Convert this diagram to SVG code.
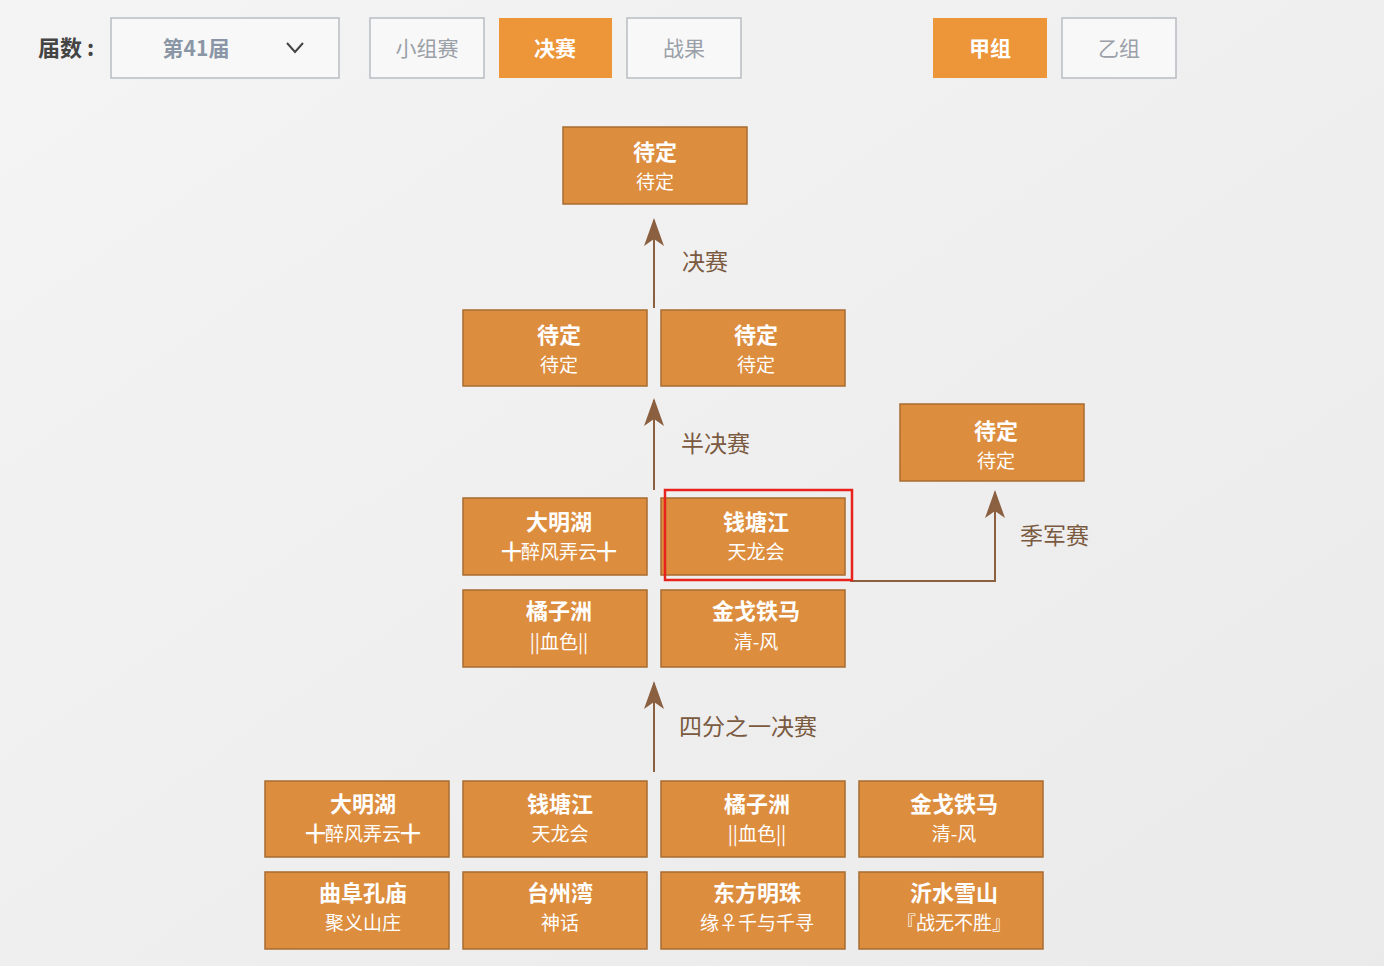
<svg xmlns="http://www.w3.org/2000/svg" width="1384" height="966" viewBox="0 0 1384 966">
<defs>
<style>
.n{fill:#dd8d3e;stroke:#a86c32;stroke-width:1.5}
.t1{font:bold 22px "Noto Sans CJK SC",sans-serif;fill:#fff;text-anchor:middle}
.t2{font:19px "Noto Sans CJK SC",sans-serif;fill:#fff;text-anchor:middle}
.lbl{font:23px "Noto Sans CJK SC",sans-serif;fill:#7a5a40}
.c{stroke:#8a6040;stroke-width:2;fill:none}
.btn{fill:#f8f8f8;stroke:#b8bcc2;stroke-width:1.5}
.bo{fill:#ec9539}
.bt{font:21px "Noto Sans CJK SC",sans-serif;fill:#9aa0a8;text-anchor:middle}
.bw{font:bold 21px "Noto Sans CJK SC",sans-serif;fill:#fff;text-anchor:middle}
</style>
<marker id="ah" viewBox="0 0 28 20" refX="26" refY="10" markerWidth="28" markerHeight="20" markerUnits="userSpaceOnUse" orient="auto">
<path d="M28 10 L0 0 L7 10 L0 20 Z" fill="#8a6040"/>
</marker>
<linearGradient id="bg" x1="0" y1="0" x2="1" y2="1"><stop offset="0" stop-color="#f4f4f5"/><stop offset="1" stop-color="#ebeaea"/></linearGradient>
</defs>
<rect width="1384" height="966" fill="url(#bg)"/>
<g id="toolbar">
<text x="38" y="56" style="font:bold 22px 'Noto Sans CJK SC',sans-serif;fill:#444">届数 :</text>
<rect class="btn" x="111" y="18" width="228" height="60"/>
<text x="196" y="56" class="bt" style="font-weight:bold;fill:#8a96a6">第41届</text>
<path d="M287 43 L295 52 L303 43" stroke="#444" stroke-width="2" fill="none"/>
<rect class="btn" x="370" y="18" width="114" height="60"/><text x="427" y="56" class="bt">小组赛</text>
<rect class="bo" x="499" y="18" width="113" height="60"/><text x="555" y="56" class="bw">决赛</text>
<rect class="btn" x="627" y="18" width="114" height="60"/><text x="684" y="56" class="bt">战果</text>
<rect class="bo" x="933" y="18" width="114" height="60"/><text x="990" y="56" class="bw">甲组</text>
<rect class="btn" x="1062" y="18" width="114" height="60"/><text x="1119" y="56" class="bt">乙组</text>
</g>
<g id="connectors">
<line class="c" x1="654" y1="308" x2="654" y2="220" marker-end="url(#ah)"/>
<line class="c" x1="654" y1="490" x2="654" y2="400" marker-end="url(#ah)"/>
<line class="c" x1="654" y1="772" x2="654" y2="683" marker-end="url(#ah)"/>
<path class="c" d="M850 581 H995 V492" marker-end="url(#ah)"/>
<text class="lbl" x="682" y="270">决赛</text>
<text class="lbl" x="681" y="452">半决赛</text>
<text class="lbl" x="1020" y="544">季军赛</text>
<text class="lbl" x="679" y="735">四分之一决赛</text>
</g>
<g id="final"><rect class="n" x="563" y="127" width="184" height="77"/><text class="t1" x="655" y="160">待定</text><text class="t2" x="655" y="189">待定</text></g>
<g id="semi1"><rect class="n" x="463" y="310" width="184" height="76"/><text class="t1" x="559" y="343">待定</text><text class="t2" x="559" y="372">待定</text></g>
<g id="semi2"><rect class="n" x="661" y="310" width="184" height="76"/><text class="t1" x="756" y="343">待定</text><text class="t2" x="756" y="372">待定</text></g>
<g id="third"><rect class="n" x="900" y="404" width="184" height="77"/><text class="t1" x="996" y="439">待定</text><text class="t2" x="996" y="468">待定</text></g>
<g id="q1"><rect class="n" x="463" y="498" width="184" height="77"/><text class="t1" x="559" y="530">大明湖</text><text class="t2" x="559" y="559">╋醉风弄云╋</text></g>
<g id="q2"><rect class="n" x="661" y="498" width="184" height="77"/><text class="t1" x="756" y="530">钱塘江</text><text class="t2" x="756" y="559">天龙会</text>
<rect x="665" y="490" width="187" height="90" fill="none" stroke="#e8231e" stroke-width="2.5"/></g>
<g id="q3"><rect class="n" x="463" y="590" width="184" height="77"/><text class="t1" x="559" y="619">橘子洲</text><text class="t2" x="559" y="649">||血色||</text></g>
<g id="q4"><rect class="n" x="661" y="590" width="184" height="77"/><text class="t1" x="756" y="619">金戈铁马</text><text class="t2" x="756" y="649">清-风</text></g>
<g id="r1"><rect class="n" x="265" y="781" width="184" height="76"/><text class="t1" x="363" y="812">大明湖</text><text class="t2" x="363" y="841">╋醉风弄云╋</text></g>
<g id="r2"><rect class="n" x="463" y="781" width="184" height="76"/><text class="t1" x="560" y="812">钱塘江</text><text class="t2" x="560" y="841">天龙会</text></g>
<g id="r3"><rect class="n" x="661" y="781" width="184" height="76"/><text class="t1" x="757" y="812">橘子洲</text><text class="t2" x="757" y="841">||血色||</text></g>
<g id="r4"><rect class="n" x="859" y="781" width="184" height="76"/><text class="t1" x="954" y="812">金戈铁马</text><text class="t2" x="954" y="841">清-风</text></g>
<g id="r5"><rect class="n" x="265" y="872" width="184" height="77"/><text class="t1" x="363" y="901">曲阜孔庙</text><text class="t2" x="363" y="930">聚义山庄</text></g>
<g id="r6"><rect class="n" x="463" y="872" width="184" height="77"/><text class="t1" x="560" y="901">台州湾</text><text class="t2" x="560" y="930">神话</text></g>
<g id="r7"><rect class="n" x="661" y="872" width="184" height="77"/><text class="t1" x="757" y="901">东方明珠</text><text class="t2" x="757" y="930">缘♀千与千寻</text></g>
<g id="r8"><rect class="n" x="859" y="872" width="184" height="77"/><text class="t1" x="954" y="901">沂水雪山</text><text class="t2" x="954" y="930">『战无不胜』</text></g>
</svg>
